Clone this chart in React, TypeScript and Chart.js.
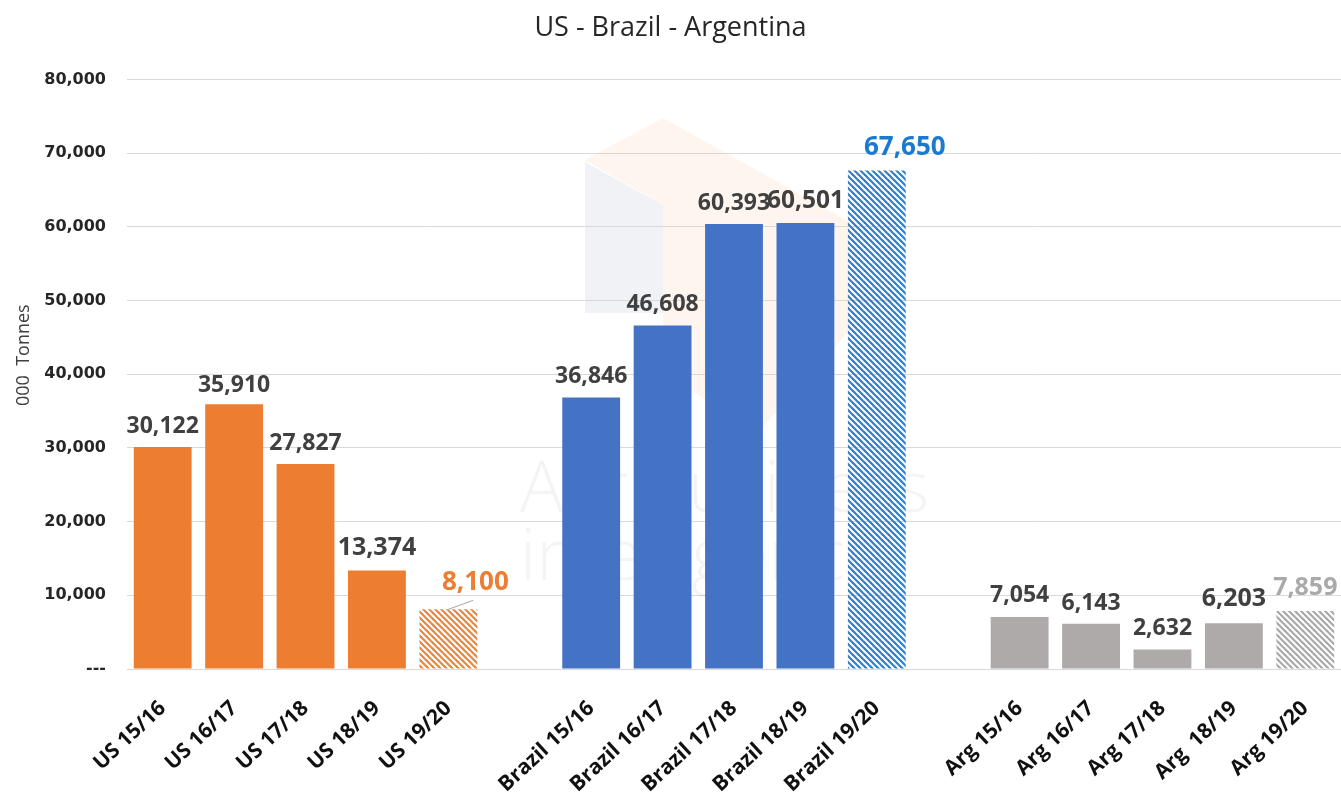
import React, { useEffect, useRef } from 'react';
import { Chart, registerables } from 'chart.js';

Chart.register(...registerables);

// ---- data ----
const categories = [
  'US 15/16', 'US 16/17', 'US 17/18', 'US 18/19', 'US 19/20', '',
  'Brazil 15/16', 'Brazil 16/17', 'Brazil 17/18', 'Brazil 18/19', 'Brazil 19/20', '',
  'Arg 15/16', 'Arg 16/17', 'Arg 17/18', 'Arg  18/19', 'Arg 19/20',
];
const usValues = [30122, 35910, 27827, 13374, 8100];
const brazilValues = [36846, 46608, 60393, 60501, 67650];
const argValues = [7054, 6143, 2632, 6203, 7859];
const yTickValues = [0, 10000, 20000, 30000, 40000, 50000, 60000, 70000, 80000];
const chartTitle = 'US - Brazil - Argentina';
const yAxisTitle = '000  Tonnes';

// ---- styles ----
const groupColors = { us: '#ED7D31', brazil: '#4472C4', arg: '#AEAAAA' };
const hatchColors = { us: '#F08535', brazil: '#2A7FD2', arg: '#A9A9A9' };
const labelDark = '#404040';

// per-group label styling: size, color, dx, dy (cap-centre offset above bar top)
const usLabelStyle = [
  { size: 23, color: labelDark, dx: 0, dy: -22 },
  { size: 23, color: labelDark, dx: 0, dy: -21 },
  { size: 23, color: labelDark, dx: 0, dy: -22 },
  { size: 25, color: labelDark, dx: 0, dy: -24 },
  { size: 26, color: '#ED7D31', dx: 27, dy: -29, leader: true },
];
const brazilLabelStyle = [
  { size: 23, color: labelDark, dx: 0, dy: -23 },
  { size: 23, color: labelDark, dx: 0, dy: -23 },
  { size: 23, color: labelDark, dx: 0, dy: -22 },
  { size: 24.5, color: labelDark, dx: 0, dy: -24 },
  { size: 26, color: '#1A7AD0', dx: 28, dy: -25 },
];
const argLabelStyle = [
  { size: 23, color: labelDark, dx: 0, dy: -23 },
  { size: 23, color: labelDark, dx: 0, dy: -22 },
  { size: 23, color: labelDark, dx: 0, dy: -23 },
  { size: 25, color: labelDark, dx: 0, dy: -26 },
  { size: 25, color: '#AAAAAA', dx: 0, dy: -25 },
];

function makeHatch(color: string) {
  const s = 6;
  const c = document.createElement('canvas');
  c.width = s;
  c.height = s;
  const g = c.getContext('2d')!;
  g.strokeStyle = color;
  g.lineWidth = 2.2;
  g.lineCap = 'square';
  for (let k = -1; k <= 1; k++) {
    g.beginPath();
    g.moveTo(k * s - 1, -1);
    g.lineTo(k * s + s + 1, s + 1);
    g.stroke();
  }
  return g.createPattern(c, 'repeat')!;
}

export default function App() {
  const ref = useRef<HTMLCanvasElement | null>(null);

  useEffect(() => {
    const canvas = ref.current;
    if (!canvas) return;

    const values: (number | null)[] = [...usValues, null, ...brazilValues, null, ...argValues];
    const styles: any[] = [...usLabelStyle, null, ...brazilLabelStyle, null, ...argLabelStyle];

    const groupOf = (arr: number[], key: 'us' | 'brazil' | 'arg') =>
      arr.map((_, i) => (i === arr.length - 1 ? makeHatch(hatchColors[key]) : groupColors[key]));
    const colors: any[] = [
      ...groupOf(usValues, 'us'), 'transparent',
      ...groupOf(brazilValues, 'brazil'), 'transparent',
      ...groupOf(argValues, 'arg'),
    ];

    const watermark = {
      id: 'watermark',
      beforeDatasetsDraw(chart: any) {
        const ctx = chart.ctx;
        ctx.save();
        ctx.fillStyle = 'rgba(250, 200, 160, 0.18)';
        ctx.beginPath();
        ctx.moveTo(585, 160);
        ctx.lineTo(663, 118);
        ctx.lineTo(850, 222);
        ctx.lineTo(850, 330);
        ctx.lineTo(760, 430);
        ctx.lineTo(663, 375);
        ctx.lineTo(663, 205);
        ctx.closePath();
        ctx.fill();
        ctx.fillStyle = 'rgba(215, 218, 228, 0.35)';
        ctx.beginPath();
        ctx.moveTo(585, 162);
        ctx.lineTo(663, 205);
        ctx.lineTo(663, 313);
        ctx.lineTo(585, 313);
        ctx.closePath();
        ctx.fill();
        ctx.fillStyle = 'rgba(0,0,0,0.045)';
        ctx.font = '300 72px "Open Sans"';
        ctx.textAlign = 'left';
        ctx.textBaseline = 'alphabetic';
        ctx.fillText('Agribusiness', 520, 512);
        ctx.fillText('intelligence', 520, 580);
        ctx.restore();
      },
    };

    const yTitle = {
      id: 'yTitle',
      afterDraw(chart: any) {
        const ctx = chart.ctx;
        const area = chart.chartArea;
        ctx.save();
        ctx.translate(24, (area.top + area.bottom) / 2 - 19);
        ctx.rotate(-Math.PI / 2);
        ctx.font = '18px "Open Sans"';
        ctx.fillStyle = '#404040';
        ctx.textAlign = 'center';
        ctx.textBaseline = 'middle';
        ctx.fillText(yAxisTitle, 0, 0);
        ctx.restore();
      },
    };

    const dataLabels = {
      id: 'dataLabels',
      afterDatasetsDraw(chart: any) {
        const ctx = chart.ctx;
        const meta = chart.getDatasetMeta(0);
        ctx.save();
        ctx.textAlign = 'center';
        ctx.textBaseline = 'alphabetic';
        meta.data.forEach((el: any, i: number) => {
          const v = values[i];
          const st = styles[i];
          if (v == null || !st) return;
          const x = el.x + st.dx;
          const capCenter = el.y + st.dy;
          if (st.leader) {
            ctx.strokeStyle = '#A6A6A6';
            ctx.lineWidth = 1;
            ctx.beginPath();
            ctx.moveTo(el.x, el.y);
            ctx.lineTo(el.x + 25, el.y - 9);
            ctx.stroke();
          }
          ctx.font = `bold ${st.size}px "Open Sans"`;
          ctx.fillStyle = st.color;
          ctx.fillText(v.toLocaleString('en-US'), x, capCenter + st.size * 0.357);
        });
        ctx.restore();
      },
    };

    const chart = new Chart(canvas, {
      type: 'bar',
      data: {
        labels: categories,
        datasets: [
          {
            data: values,
            backgroundColor: colors,
            borderWidth: 0,
            barPercentage: 0.81,
            categoryPercentage: 1,
          },
        ],
      },
      options: {
        animation: false,
        responsive: false,
        layout: { padding: { left: 0, right: 0, top: 0, bottom: 0 } },
        plugins: {
          legend: { display: false },
          tooltip: { enabled: false },
          title: {
            display: true,
            text: chartTitle,
            color: '#262626',
            font: { family: 'Open Sans', size: 27, weight: 'normal' },
            padding: { top: 12, bottom: 35 },
          },
        },
        scales: {
          x: {
            grid: { display: false, drawTicks: false },
            border: { display: true, color: '#D9D9D9', width: 1 },
            ticks: {
              autoSkip: false,
              minRotation: 43,
              maxRotation: 43,
              padding: 27,
              color: '#111111',
              font: { family: 'Open Sans', size: 21, weight: 'bold' },
            },
            afterFit(scale: any) {
              scale.height = 127;
              scale.paddingLeft = 0;
              scale.paddingRight = 0;
            },
          },
          y: {
            min: 0,
            max: 80000,
            afterBuildTicks(scale: any) {
              scale.ticks = yTickValues.map((v) => ({ value: v }));
            },
            grid: { color: '#D9D9D9', lineWidth: 1, drawTicks: false },
            border: { display: false },
            ticks: {
              padding: 21,
              color: '#262626',
              font: { family: 'DejaVu Sans', size: 16, weight: 'bold' },
              callback: (v: any) => (Number(v) === 0 ? '---' : Number(v).toLocaleString('en-US')),
            },
            title: { display: false },
            afterFit(scale: any) {
              scale.width = 127;
            },
          },
        },
      },
      plugins: [watermark, dataLabels, yTitle],
    } as any);

    return () => chart.destroy();
  }, []);

  return (
    <div style={{ position: 'absolute', left: 0, top: 0, width: 1341, height: 796, background: '#ffffff' }}>
      <canvas ref={ref} width={1341} height={796} />
    </div>
  );
}
